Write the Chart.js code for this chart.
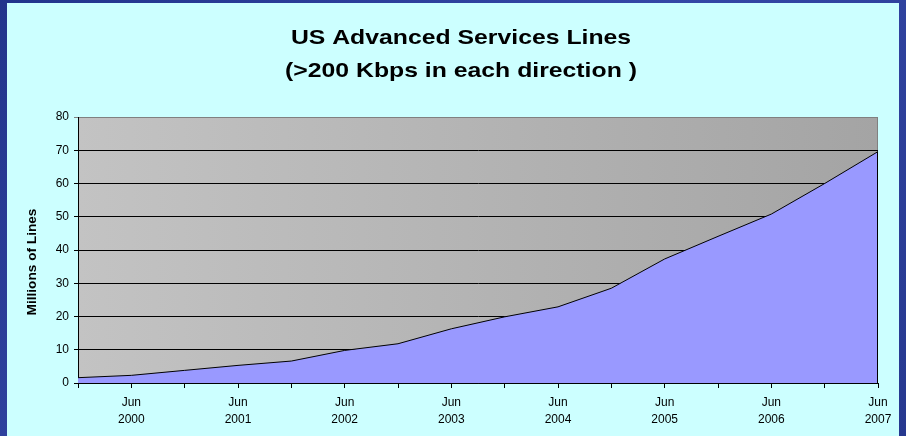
<!DOCTYPE html>
<html>
<head>
<meta charset="utf-8">
<script src="https://cdn.jsdelivr.net/npm/chart.js@4.4.1/dist/chart.umd.min.js"></script>
<style>
  html, body { margin: 0; padding: 0; }
  body {
    width: 906px; height: 436px; overflow: hidden; position: relative;
    background: linear-gradient(135deg, #22348c 0%, #3447a6 50%, #26388f 100%);
  }
  #panel { position: absolute; left: 7px; top: 3px; width: 892px; height: 433px; background: #ccffff; }
  #myChart { position: absolute; left: 0; top: 0; }
</style>
</head>
<body>
<div id="panel"></div>
<canvas id="myChart" width="906" height="436"></canvas>
<script>
const periods = [
    'Dec 1999', 'Jun 2000', 'Dec 2000', 'Jun 2001', 'Dec 2001', 'Jun 2002', 'Dec 2002', 'Jun 2003',
    'Dec 2003', 'Jun 2004', 'Dec 2004', 'Jun 2005', 'Dec 2005', 'Jun 2006', 'Dec 2006', 'Jun 2007'
];
const lines = [1.6, 2.3, 3.8, 5.3, 6.6, 9.8, 11.8, 16.3, 19.9, 22.9, 28.5, 37.3, 44.1, 50.8, 60.0, 69.6];
const titleLines = ['US Advanced Services Lines', '(>200 Kbps in each direction )'];
const yTitle = 'Millions of Lines';

(function () {
    const ctx = document.getElementById('myChart');

    // gray gradient behind the plot + thin gray frame
    const plotBg = {
        id: 'plotBg',
        beforeDraw(chart) {
            const { ctx, chartArea: a } = chart;
            const g = ctx.createLinearGradient(a.left, 0, a.right, 0);
            g.addColorStop(0, '#c3c3c3');
            g.addColorStop(1, '#a4a4a4');
            ctx.save();
            ctx.fillStyle = g;
            ctx.fillRect(a.left, a.top, a.right - a.left, a.bottom - a.top);
            ctx.strokeStyle = '#808080';
            ctx.lineWidth = 1;
            ctx.strokeRect(a.left + 0.5, a.top + 0.5, a.right - a.left - 1, a.bottom - a.top);
            ctx.restore();
        },
        afterDatasetsDraw(chart) {
            // closing edge of the area on the right side
            const { ctx } = chart;
            const x = chart.scales.x.getPixelForValue(lines.length - 1);
            const y = chart.scales.y.getPixelForValue(lines[lines.length - 1]);
            ctx.save();
            ctx.strokeStyle = '#000';
            ctx.lineWidth = 1;
            ctx.beginPath();
            ctx.moveTo(x - 0.5, y);
            ctx.lineTo(x - 0.5, chart.scales.y.getPixelForValue(0));
            ctx.stroke();
            ctx.restore();
        }
    };

    // titles are a bit wider than plain Arial in the original, so stretch them
    const texts = {
        id: 'texts',
        afterDraw(chart) {
            const { ctx } = chart;
            ctx.save();
            ctx.fillStyle = '#000';
            ctx.textAlign = 'center';
            ctx.textBaseline = 'middle';
            ctx.font = 'bold 21px "Liberation Sans", Arial, sans-serif';
            ctx.save();
            ctx.translate(461, 0);
            ctx.scale(1.18, 1);
            ctx.fillText(titleLines[0], 0, 38);
            ctx.fillText(titleLines[1], 0, 71);
            ctx.restore();
            ctx.translate(32, 262);
            ctx.rotate(-Math.PI / 2);
            ctx.font = 'bold 13px "Liberation Sans", Arial, sans-serif';
            ctx.scale(1.05, 1);
            ctx.fillText(yTitle, 0, 0);
            ctx.restore();
        }
    };

    const data = {
        labels: periods,
        datasets: [{
            label: 'Lines',
            data: lines,
            fill: 'origin',
            backgroundColor: '#9999ff',
            borderColor: '#000',
            borderWidth: 1,
            pointRadius: 0,
            tension: 0
        }]
    };

    const config = {
        type: 'line',
        data: data,
        options: {
            responsive: false,
            animation: false,
            layout: {
                padding: { left: 0, right: 28, top: 117, bottom: 0 }
            },
            scales: {
                x: {
                    afterFit: (scale) => { scale.height = 53; },
                    offset: false,
                    grid: {
                        drawOnChartArea: false,
                        color: '#000',
                        tickLength: 5
                    },
                    border: { color: '#000' },
                    ticks: {
                        autoSkip: false,
                        maxRotation: 0,
                        padding: 7,
                        color: '#000',
                        font: { family: '"Liberation Sans", Arial', size: 12, lineHeight: 1.35 },
                        callback: function (value) {
                            const label = this.getLabelForValue(value);
                            return label.startsWith('Jun') ? label.split(' ') : '';
                        }
                    }
                },
                y: {
                    afterFit: (scale) => { scale.width = 78; },
                    min: 0,
                    max: 80,
                    grid: {
                        color: (c) => c.tick && c.tick.value === 80 ? '#808080' : '#000',
                        tickLength: 4
                    },
                    border: { color: '#000' },
                    ticks: {
                        stepSize: 10,
                        padding: 5,
                        color: '#000',
                        font: { family: '"Liberation Sans", Arial', size: 12 }
                    }
                }
            },
            plugins: {
                legend: { display: false },
                tooltip: { enabled: false }
            }
        },
        plugins: [plotBg, texts]
    };

    if (ctx) {
        new Chart(ctx, config);
    }
})();
</script>
</body>
</html>
